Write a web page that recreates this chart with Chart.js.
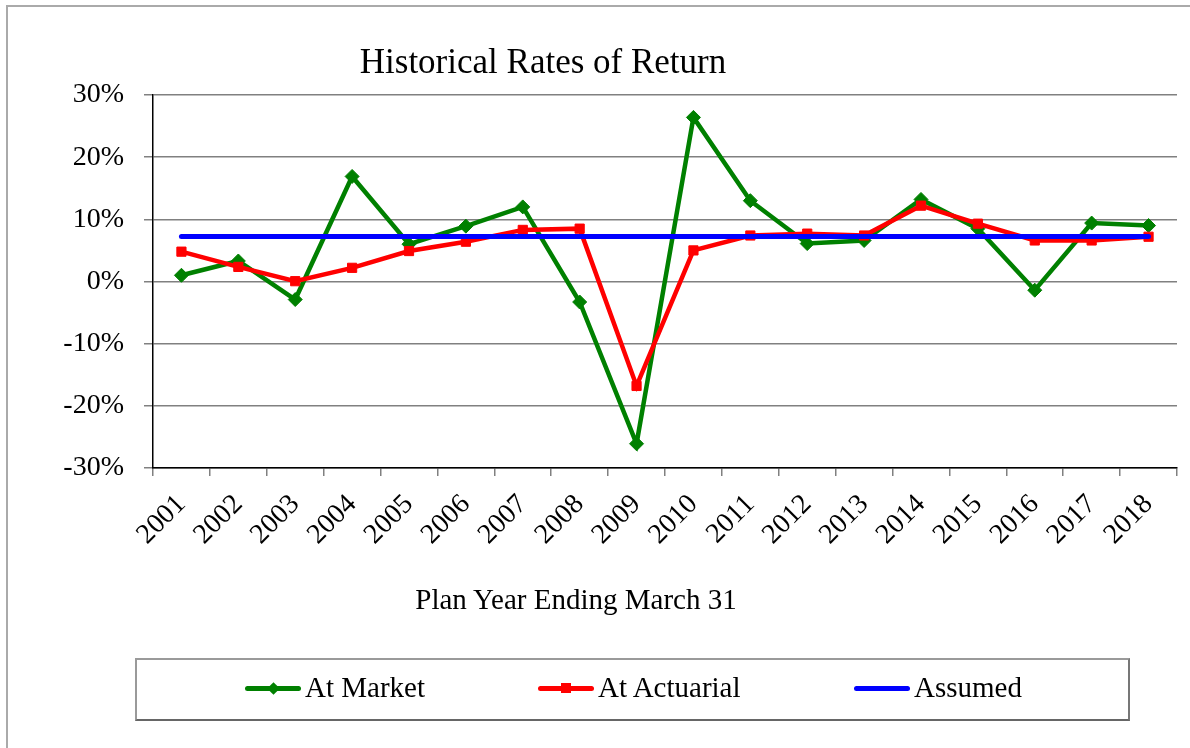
<!DOCTYPE html>
<html>
<head>
<meta charset="utf-8">
<script src="https://cdn.jsdelivr.net/npm/chart.js@4/dist/chart.umd.min.js"></script>
<style>
  html, body { margin: 0; padding: 0; background: #fff; }
  #wrap { position: relative; width: 1190px; height: 748px; overflow: hidden; font-family: 'Liberation Serif', 'Times New Roman', serif; color: #000; }
  #c { position: absolute; left: 0; top: 0; }
  .frame { position: absolute; left: 6px; top: 5px; width: 1400px; height: 900px; border-left: 2px solid #aaa; border-top: 2px solid #aaa; }
  .txt { position: absolute; white-space: nowrap; line-height: 1; transform: translateX(-50%); }
  .legbox { position: absolute; left: 135px; top: 658px; width: 991px; height: 59px; border: 2px solid #9a9a9a; border-bottom-color: #666; border-right-color: #777; }
  .lt { position: absolute; white-space: nowrap; line-height: 1; font-size: 29px; }
  .ln { position: absolute; }
  .mk { position: absolute; }
</style>
</head>
<body>
<div id="wrap">
  <div class="frame"></div>
  <canvas id="c" width="1190" height="748"></canvas>
  <div class="txt" id="title" style="left:543px; top:44px; font-size:35px;"></div>
  <div class="txt" id="xtitle" style="left:576px; top:585px; font-size:29px;"></div>
  <div class="legbox"></div>
  <div id="legend"></div>
</div>
<script>
const chartTitle = 'Historical Rates of Return';
const xAxisTitle = 'Plan Year Ending March 31';
const years = ['2001','2002','2003','2004','2005','2006','2007','2008','2009','2010','2011','2012','2013','2014','2015','2016','2017','2018'];
const atMarket = [1.0, 3.3, -2.9, 16.9, 6.0, 8.9, 12.0, -3.3, -26.1, 26.4, 13.0, 6.1, 6.6, 13.2, 8.5, -1.4, 9.4, 9.0];
const atActuarial = [4.8, 2.35, 0.05, 2.2, 4.9, 6.4, 8.3, 8.5, -16.8, 5.0, 7.4, 7.7, 7.4, 12.2, 9.3, 6.6, 6.6, 7.2];
const assumed = [7.25, 7.25, 7.25, 7.25, 7.25, 7.25, 7.25, 7.25, 7.25, 7.25, 7.25, 7.25, 7.25, 7.25, 7.25, 7.25, 7.25, 7.25];
const yMin = -30, yMax = 30, yStep = 10;
const seriesNames = ['At Market', 'At Actuarial', 'Assumed'];
const seriesColors = ['#008000', '#ff0000', '#0000ff'];

document.getElementById('title').textContent = chartTitle;
document.getElementById('xtitle').textContent = xAxisTitle;

const FONT = "'Liberation Serif', 'Times New Roman', serif";

new Chart(document.getElementById('c'), {
  type: 'line',
  data: {
    labels: years,
    datasets: [
      { label: seriesNames[0], data: atMarket, borderColor: seriesColors[0], backgroundColor: seriesColors[0],
        borderWidth: 4.5, pointStyle: 'rectRot', pointRadius: 7, pointBorderWidth: 1, pointBackgroundColor: seriesColors[0], pointBorderColor: seriesColors[0], order: 3, tension: 0 },
      { label: seriesNames[1], data: atActuarial, borderColor: seriesColors[1], backgroundColor: seriesColors[1],
        borderWidth: 4.5, pointStyle: 'rect', pointRadius: 6.5, pointBorderWidth: 1, pointBackgroundColor: seriesColors[1], pointBorderColor: seriesColors[1], order: 2, tension: 0 },
      { label: seriesNames[2], data: assumed, borderColor: seriesColors[2], backgroundColor: seriesColors[2],
        borderWidth: 5, pointRadius: 0, order: 1, tension: 0, borderCapStyle: 'round' }
    ]
  },
  options: {
    responsive: false,
    animation: false,
    devicePixelRatio: 1,
    layout: { padding: { left: 0, top: 95, right: 13, bottom: 0 } },
    plugins: { legend: { display: false }, title: { display: false }, tooltip: { enabled: false } },
    scales: {
      x: {
        offset: true,
        afterFit: (s) => { s.height = 280; },
        grid: { offset: true, drawOnChartArea: false, drawTicks: true, tickLength: 8, color: '#808080', lineWidth: 1.5 },
        border: { display: true, color: '#000', width: 1.5 },
        ticks: { autoSkip: false, minRotation: 45, maxRotation: 45, padding: 12, color: '#000', font: { family: FONT, size: 28 } }
      },
      y: {
        min: yMin, max: yMax,
        afterFit: (s) => { s.width = 153; },
        grid: { drawTicks: true, tickLength: 9, color: '#808080', lineWidth: 1.5 },
        border: { display: true, color: '#000', width: 1.5 },
        ticks: { stepSize: yStep, padding: 20, color: '#000', font: { family: FONT, size: 28 }, callback: (v) => v + '%' }
      }
    }
  }
});

// HTML legend built from the series names/colours
const legendItems = [
  { x: 245, marker: 'diamond' },
  { x: 538, marker: 'square' },
  { x: 854, marker: 'none' }
];
const leg = document.getElementById('legend');
legendItems.forEach((it, i) => {
  const cy = 688;
  const ln = document.createElement('div');
  ln.className = 'ln';
  const lh = 5;
  ln.style.cssText = `left:${it.x}px; top:${cy - lh/2}px; width:56px; height:${lh}px; background:${seriesColors[i]}; border-radius:2.5px;`;
  leg.appendChild(ln);
  if (it.marker !== 'none') {
    const mk = document.createElement('div');
    mk.className = 'mk';
    const sz = it.marker === 'diamond' ? 9 : 10;
    mk.style.cssText = `left:${it.x + 28 - sz/2}px; top:${cy - sz/2}px; width:${sz}px; height:${sz}px; background:${seriesColors[i]};` + (it.marker === 'diamond' ? 'transform: rotate(45deg);' : '');
    leg.appendChild(mk);
  }
  const t = document.createElement('div');
  t.className = 'lt';
  t.style.left = (it.x + 60) + 'px';
  t.style.top = '673px';
  t.textContent = seriesNames[i];
  leg.appendChild(t);
});
</script>
</body>
</html>
